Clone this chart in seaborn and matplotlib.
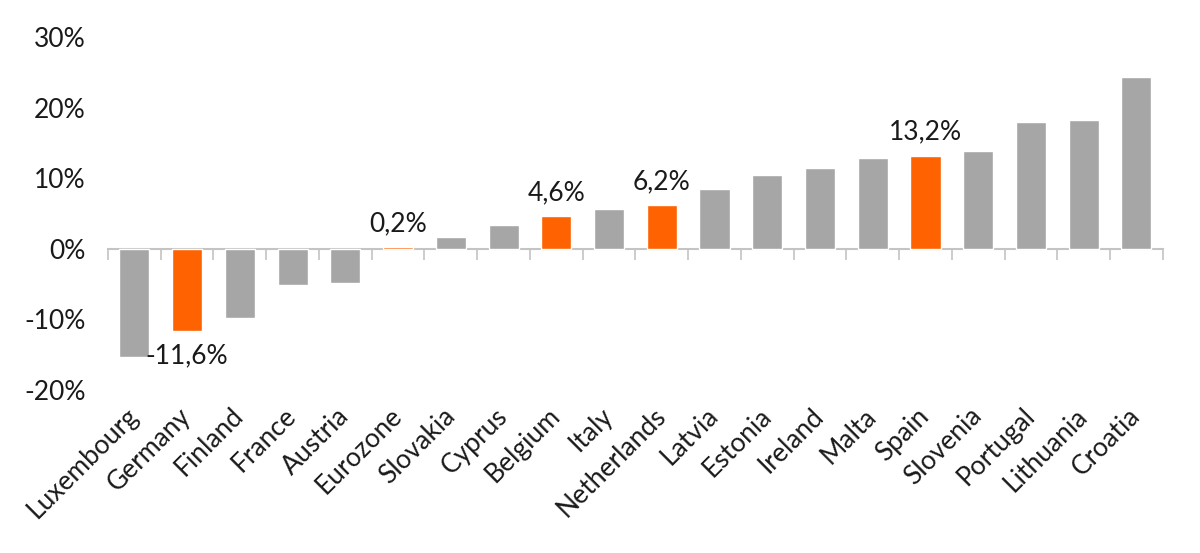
import numpy as np
import pandas as pd
import matplotlib
matplotlib.use("Agg")
import matplotlib.pyplot as plt
import seaborn as sns

countries = ["Luxembourg", "Germany", "Finland", "France", "Austria", "Eurozone",
             "Slovakia", "Cyprus", "Belgium", "Italy", "Netherlands", "Latvia",
             "Estonia", "Ireland", "Malta", "Spain", "Slovenia", "Portugal",
             "Lithuania", "Croatia"]
values = [-15.4, -11.6, -9.8, -5.1, -4.8, 0.2, 1.7, 3.3, 4.6, 5.6, 6.2, 8.5,
          10.5, 11.4, 12.9, 13.2, 13.9, 18.0, 18.3, 24.3]
highlighted = ["Germany", "Eurozone", "Belgium", "Netherlands", "Spain"]

GREY = "#a6a6a6"
ORANGE = "#ff6200"

df = pd.DataFrame({"country": countries, "value": values})
df["hl"] = df["country"].isin(highlighted)

sns.set_style("white")
plt.rcParams["font.family"] = ["Lato", "DejaVu Sans"]

fig = plt.figure(figsize=(12, 5.53), dpi=100)
ax = fig.add_axes([0.09, 0.295, 0.879, 0.638])

sns.barplot(data=df, x="country", y="value", hue="hl",
            palette={False: GREY, True: ORANGE}, width=0.57,
            legend=False, ax=ax, saturation=1, dodge=False)

ax.set_ylim(-20, 30)
ax.set_xlim(-0.5, len(countries) - 0.5)
ax.set_yticks(np.arange(-20, 31, 10))
ax.set_yticklabels([f"{t}%" for t in range(-20, 31, 10)], fontsize=19, color="#1a1a1a")
ax.tick_params(axis="y", length=0, pad=16)
ax.tick_params(axis="x", length=0, pad=16)
plt.setp(ax.get_xticklabels(), rotation=45, ha="right", va="center",
         rotation_mode="anchor", fontsize=19, color="#1a1a1a")
ax.set_xlabel("")
ax.set_ylabel("")
for s in ax.spines.values():
    s.set_visible(False)

# zero line with tick marks between categories
sec = ax.secondary_xaxis(0, transform=ax.transData)
sec.set_xticks(np.arange(-0.5, len(countries), 1.0))
sec.set_xticklabels([])
sec.tick_params(axis="x", length=8, width=1.2, color="#c4c4c4", direction="out")
sec.spines["bottom"].set_color("#c4c4c4")
sec.spines["bottom"].set_linewidth(1.5)

for i, (c, v) in enumerate(zip(countries, values)):
    if c in highlighted:
        lab = f"{v:.1f}%".replace(".", ",")
        if v >= 0:
            ax.annotate(lab, (i, v), xytext=(0, 8), textcoords="offset points",
                        ha="center", va="bottom", fontsize=19, color="#1a1a1a")
        else:
            ax.annotate(lab, (i, v), xytext=(0, -9), textcoords="offset points",
                        ha="center", va="top", fontsize=19, color="#1a1a1a")

fig.savefig("out.png", dpi=100)
